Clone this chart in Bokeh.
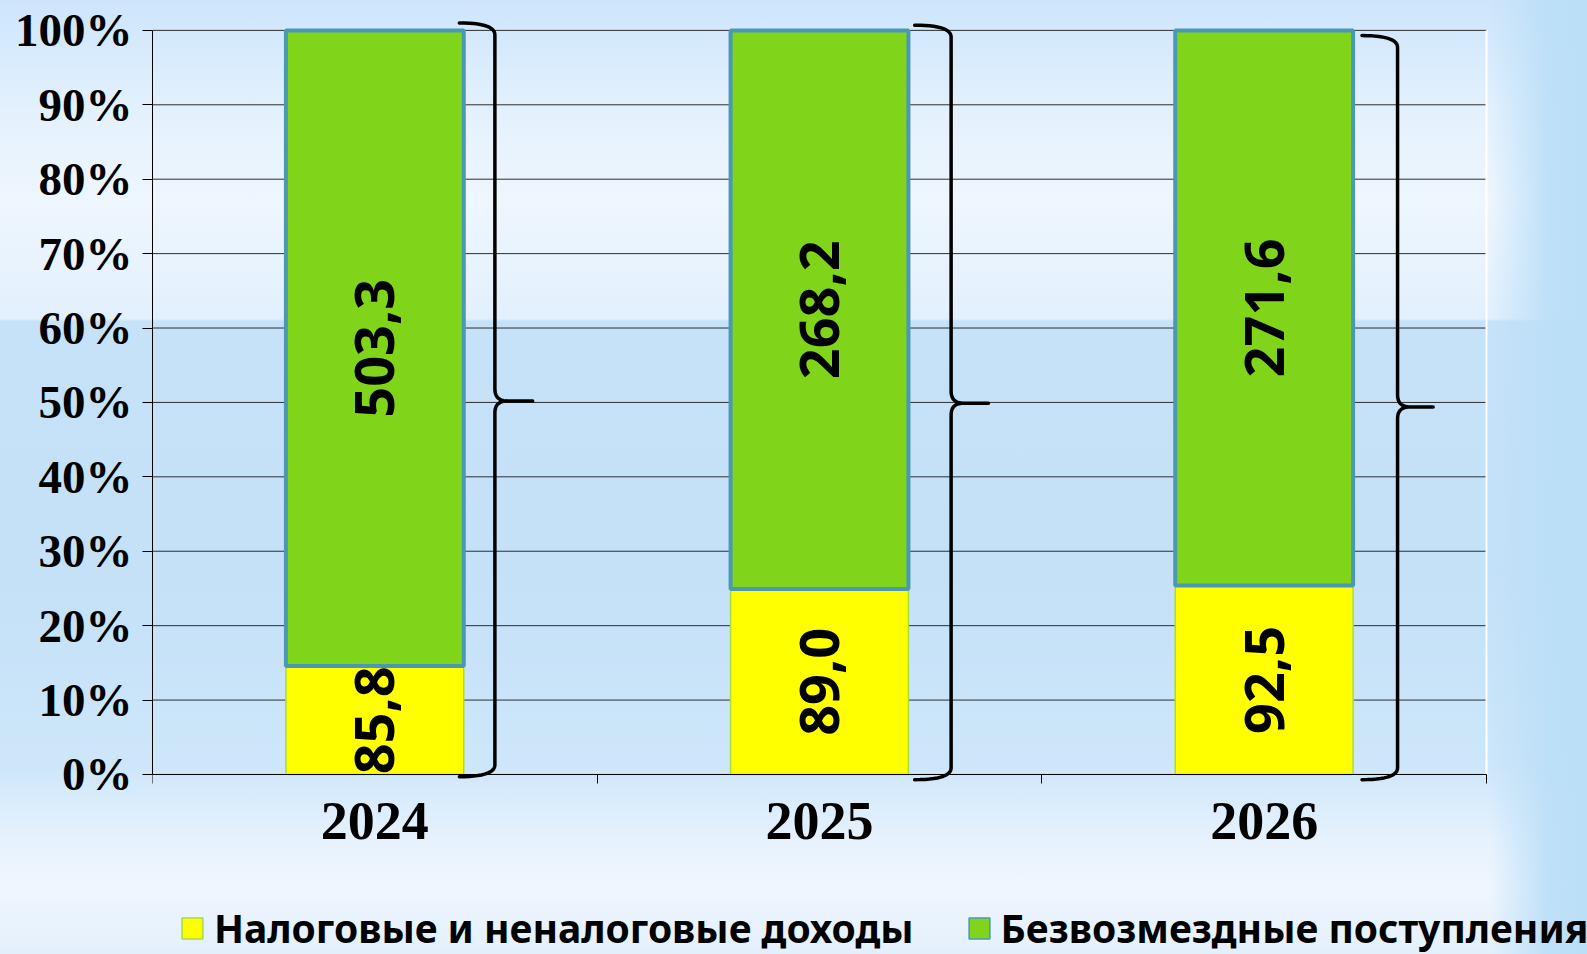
import numpy as np
from bokeh.plotting import figure
from bokeh.models import (Range1d, FixedTicker, Legend, LegendItem, ColumnDataSource)
from bokeh.core.properties import value
from bokeh.embed import file_html
from bokeh.resources import INLINE

# ---------------- data ----------------
years = ["2024", "2025", "2026"]
tax_income = [85.8, 89.0, 92.5]          # Налоговые и неналоговые доходы
grants = [503.3, 268.2, 271.6]           # Безвозмездные поступления
series_names = ["Налоговые и неналоговые доходы", "Безвозмездные поступления"]
y_ticks = [0, 10, 20, 30, 40, 50, 60, 70, 80, 90, 100]
y_tick_labels = [f"{t}%" for t in y_ticks]

# ---------------- styles ----------------
YELLOW = "#FFFF00"
YELLOW_LINE = "#A4DC45"
GREEN = "#80D41A"
GREEN_LINE = "#4A98B6"
GRID = "#2E2E2E"

W, H = 1587, 954
BORDER_L, BORDER_T = 152, 15
PLOT_W_PX = 1334           # chart area width for all categories
PX_PER_PCT = 7.44          # 744 px for 0..100 %
Y_TOP = 102.0
Y_BOTTOM = -(H - 774) / PX_PER_PCT   # frame reaches page bottom (room for axis labels & legend)

# brace geometry (offsets from bar centre, in category units / percent units)
brace_vx = [0.27, 0.296, 0.30]
brace_hx = [0.19, 0.214, 0.22]
brace_cx = [0.355, 0.38, 0.38]
brace_top = [101.0, 100.7, 99.3]
brace_mid = [50.2, 49.9, 49.4]
brace_bot = [-0.3, -0.7, -0.7]

# ---------------- derived ----------------
n = len(years)
X_END = n + (W - BORDER_L - PLOT_W_PX) / (PLOT_W_PX / n)
xc = np.arange(n) + 0.5
tax = np.array(tax_income)
gr = np.array(grants)
tax_pct = 100 * tax / (tax + gr)

src = ColumnDataSource(dict(
    x=xc, tax_top=tax_pct, full=[100.0] * n,
    tax_mid=tax_pct / 2, gr_mid=(tax_pct + 100) / 2,
    tax_lbl=[f"{v:.1f}".replace(".", ",") for v in tax],
    gr_lbl=[f"{v:.1f}".replace(".", ",") for v in gr],
))

bg = ("linear-gradient(to right, rgba(188,223,248,0) 0%, rgba(188,223,248,0) 93.8%, "
      "rgba(188,223,248,0.95) 97.5%, rgba(188,223,248,1) 100%), "
      "linear-gradient(to bottom, #cde5fb 0%, #e4f1fd 12%, #eef6fe 21%, #e2f0fd 33.4%, "
      "#c6e2f9 33.7%, #c4e1f8 60%, #cde6fa 80%, #e6f2fd 88%, #eff6fe 93%, #e3f0fc 100%)")

p = figure(width=W, height=H, output_backend="svg", toolbar_location=None,
           x_range=Range1d(0, X_END), y_range=Range1d(Y_BOTTOM, Y_TOP),
           min_border_left=BORDER_L, min_border_right=0,
           min_border_top=BORDER_T, min_border_bottom=0)
p.styles = {"background": bg}
p.border_fill_alpha = 0
p.background_fill_alpha = 0
p.outline_line_color = None

# grids: horizontal lines only across the chart area
p.xgrid.visible = False
p.ygrid.visible = False
p.segment(x0=[0] * len(y_ticks), x1=[n] * len(y_ticks), y0=y_ticks, y1=y_ticks,
          line_color=GRID, line_width=1, level="underlay")

# y axis
p.yaxis.ticker = FixedTicker(ticks=y_ticks)
p.yaxis.major_label_overrides = {t: l for t, l in zip(y_ticks, y_tick_labels)}
p.yaxis.bounds = (0, 100)
p.yaxis.major_label_text_font = "Liberation Serif"
p.yaxis.major_label_text_font_style = "bold"
p.yaxis.major_label_text_font_size = "47px"
p.yaxis.major_label_text_color = "black"
p.yaxis.major_tick_out = 10
p.yaxis.major_tick_in = 0
p.yaxis.minor_tick_line_color = None
p.yaxis.major_label_standoff = 10
p.yaxis.axis_line_color = "black"
p.yaxis.major_tick_line_color = "black"

# x axis (sits on the 0 % line)
p.xaxis.fixed_location = 0
p.xaxis.bounds = (0, n)
p.xaxis.ticker = FixedTicker(ticks=list(xc), minor_ticks=list(range(n + 1)))
p.xaxis.major_label_overrides = {float(x): y for x, y in zip(xc, years)}
p.xaxis.major_label_text_font = "Liberation Serif"
p.xaxis.major_label_text_font_style = "bold"
p.xaxis.major_label_text_font_size = "54px"
p.xaxis.major_label_text_color = "black"
p.xaxis.major_tick_out = 0
p.xaxis.major_tick_in = 0
p.xaxis.minor_tick_out = 9
p.xaxis.minor_tick_in = 0
p.xaxis.minor_tick_line_color = "black"
p.xaxis.major_label_standoff = 20
p.xaxis.axis_line_color = "black"

# white right edge of chart area
p.segment(x0=[n], y0=[0], x1=[n], y1=[100], line_color="white", line_width=2)

# bars
p.vbar(x="x", width=0.4, bottom=0, top="tax_top", source=src,
       fill_color=YELLOW, line_color=YELLOW_LINE, line_width=1.5)
p.vbar(x="x", width=0.4, bottom="tax_top", top="full", source=src,
       fill_color=GREEN, line_color=GREEN_LINE, line_width=4)

# value labels
for ycol, tcol in (("tax_mid", "tax_lbl"), ("gr_mid", "gr_lbl")):
    p.text(x="x", y=ycol, text=tcol, source=src, angle=np.pi / 2,
           text_align="center", text_baseline="middle",
           text_font=value("Noto Sans"), text_font_style="bold",
           text_font_size="54px", text_color="black")


# braces
def quad(p0, p1, p2, k=14):
    t = np.linspace(0, 1, k)[:, None]
    pts = (1 - t) ** 2 * np.array(p0) + 2 * (1 - t) * t * np.array(p1) + t ** 2 * np.array(p2)
    return pts


bxs, bys = [], []
ry, rx = 1.6, 0.028
for i in range(n):
    c = xc[i]
    vx, hx, cx = c + brace_vx[i], c + brace_hx[i], c + brace_cx[i]
    yt, ym, yb = brace_top[i], brace_mid[i], brace_bot[i]
    seg = [quad((hx, yt), (vx, yt), (vx, yt - ry)),
           quad((vx, ym + ry), (vx, ym), (vx + rx, ym)),
           np.array([[cx, ym]]),
           quad((vx + rx, ym), (vx, ym), (vx, ym - ry)),
           quad((vx, yb + ry), (vx, yb), (hx, yb))]
    pts = np.vstack(seg)
    bxs.append(list(pts[:, 0]))
    bys.append(list(pts[:, 1]))
p.multi_line(xs=bxs, ys=bys, line_color="black", line_width=3.5,
             line_join="round", line_cap="round")

# legend (hidden proxy bars with legend styling)
r1 = p.vbar(x="x", width=0.4, bottom=0, top="tax_top", source=src,
            fill_color=YELLOW, line_color=YELLOW_LINE, line_width=1.5, visible=False)
r2 = p.vbar(x="x", width=0.4, bottom="tax_top", top="full", source=src,
            fill_color=GREEN, line_color=GREEN_LINE, line_width=1.5, visible=False)
legend = Legend(items=[LegendItem(label=series_names[0], renderers=[r1]),
                       LegendItem(label=series_names[1], renderers=[r2])],
                orientation="horizontal", location=(27, 0),
                glyph_width=26, glyph_height=26, label_standoff=9, spacing=52,
                padding=0, margin=0, click_policy="none",
                label_text_font="Noto Sans", label_text_font_style="bold",
                label_text_font_size="39px", label_text_color="black",
                background_fill_alpha=0, border_line_alpha=0,
                inactive_fill_alpha=0)
p.add_layout(legend)

open("out.html", "w").write(file_html(p, INLINE))
